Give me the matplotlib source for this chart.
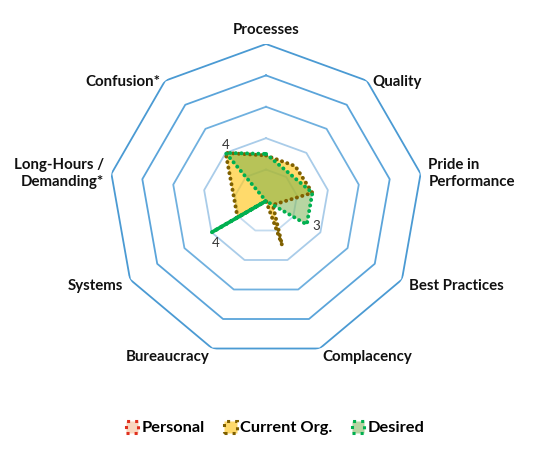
import numpy as np
import matplotlib
matplotlib.use('Agg')
import matplotlib.pyplot as plt
import matplotlib.patches as mpatches

# Datos del radar (escala 0-10, sentido horario desde arriba)
categorias = ['Processes', 'Quality', 'Pride in\nPerformance', 'Best Practices',
              'Complacency', 'Bureaucracy', 'Systems', 'Long-Hours /\nDemanding*',
              'Confusion*']
personal = [0, 0, 0, 0, 0, 0, 0, 0, 0]
current_org = [2.9, 2.9, 3.0, 0.5, 3.0, 0, 2.1, 2.1, 4.0]
desired = [3.0, 2.3, 3.0, 3.0, 0, 0, 4.0, 0, 4.0]
anillos = [2, 4, 6, 8, 10]
colores_anillo = ['#C3DBEF', '#A9CCE9', '#6FB0DF', '#5AA4DA', '#4A9AD3']

# Etiquetas de datos visibles: (serie, índice de categoría, texto, desplazamiento)
etiquetas_datos = [(desired, 8, '4', (0, 6)), (desired, 3, '3', (7, -1)),
                   (desired, 6, '4', (3, -8))]

FONT = ['Lato', 'DejaVu Sans']

n = len(categorias)
ang = np.linspace(0, 2 * np.pi, n, endpoint=False)
ang_c = np.append(ang, ang[0])

fig = plt.figure(figsize=(5.5, 4.54), dpi=100)
ax = fig.add_axes([0.1982, 0.2115, 0.5709, 0.6916], projection='polar')
ax.set_theta_offset(np.pi / 2)
ax.set_theta_direction(-1)
ax.set_ylim(0, 10)
ax.grid(False)
ax.spines['polar'].set_visible(False)
ax.set_xticks([])
ax.set_yticks([])
ax.patch.set_alpha(0)

# Anillos poligonales
for r, c in zip(anillos, colores_anillo):
    ax.plot(ang_c, [r] * (n + 1), color=c, linewidth=1.3, zorder=1)

series = [
    (personal, '#F4B183', '#E0301E', 0.5, 'Personal'),
    (current_org, '#FFC000', '#7F6000', 0.58, 'Current Org.'),
    (desired, '#70AD47', '#00B050', 0.5, 'Desired'),
]
dots = (0, (0.05, 1.4))
handles = []
for i, (vals, fc, ec, a, nombre) in enumerate(series):
    v = np.append(vals, vals[0])
    ax.fill(ang_c, v, color=fc, alpha=a, linewidth=0, zorder=2 + i)
    if max(vals) > 0:
        ax.plot(ang_c, v, color=ec, linewidth=2.8, linestyle=dots,
                dash_capstyle='round', zorder=5 + i)
        # picos aislados (vecinos en cero): el borde ida y vuelta se ve continuo
        for k in range(n):
            if vals[k] > 0 and vals[k - 1] == 0 and vals[(k + 1) % n] == 0:
                ax.plot([ang[k], ang[k]], [0, vals[k]], color=ec,
                        linewidth=2.6, solid_capstyle='butt', zorder=5 + i)
    handles.append(mpatches.Patch(facecolor=matplotlib.colors.to_rgba(fc, a),
                                  edgecolor=ec, linestyle=':', linewidth=2.2,
                                  label=nombre))

for vals, idx, txt, off in etiquetas_datos:
    ax.annotate(txt, (ang[idx], vals[idx]), xytext=off, textcoords='offset points',
                ha='center', va='center', fontsize=9.5, color='#333333',
                family=FONT, zorder=10)

# Etiquetas de categorías (ajuste vertical fino en puntos)
ajuste_y = [0, -5, -1, -2, -1, -1, -2, -1, -5]
for a_, cat, dy in zip(ang, categorias, ajuste_y):
    x = np.sin(a_)
    if x > 0.1:
        ha = 'left'
    elif x < -0.1:
        ha = 'right'
    else:
        ha = 'center'
    r = 10.9 if cat == 'Processes' else 10.5
    ax.annotate(cat, (a_, r), xytext=(0, dy), textcoords='offset points',
                ha=ha, va='center', fontsize=10.8, fontweight='bold',
                family=FONT, color='#111111', linespacing=1.3,
                annotation_clip=False)

fig.legend(handles=handles, loc='center', bbox_to_anchor=(0.5, 0.057), ncol=3,
           frameon=False, prop={'family': FONT, 'weight': 'bold', 'size': 11.8},
           handlelength=0.75, handleheight=0.75, handletextpad=0.2,
           columnspacing=1.2)

plt.savefig('out.png', dpi=100, facecolor='white')
plt.close()
